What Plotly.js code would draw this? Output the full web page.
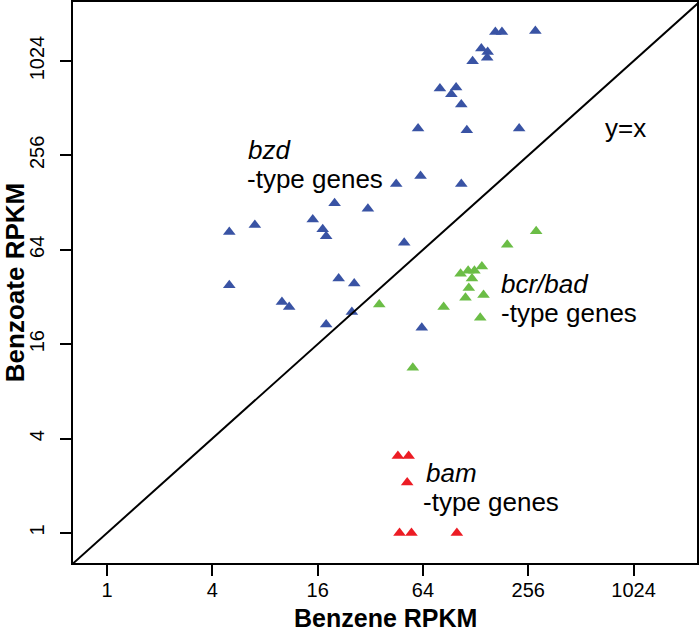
<!DOCTYPE html>
<html>
<head>
<meta charset="utf-8">
<script src="https://cdn.plot.ly/plotly-3.0.1.min.js"></script>
<style>html,body{margin:0;padding:0;background:#fff;}#chart{width:700px;height:631px;}</style>
</head>
<body>
<div id="chart"></div>
<script>
// bzd-type genes (blue)
const bzdBenzene  = [166, 181, 281, 138, 150, 149, 123, 80, 99, 93, 106, 60, 114, 227, 45, 62, 106, 20, 31, 15, 7.0, 5.0, 17.1, 17.9, 50, 5.0, 21.1, 25.9, 10.0, 11.0, 25.1, 17.9, 63];
const bzdBenzoate = [1568, 1568, 1591, 1229, 1169, 1076, 1020, 683, 693, 628, 540, 380, 370, 380, 168, 189, 168, 127, 117, 100, 92, 83, 86.5, 78, 71, 38, 42, 39, 29.7, 27.6, 25.7, 21.4, 20.4];
// bcr/bad-type genes (green)
const bcrBenzene  = [284, 194, 105, 126, 139, 122, 117, 112, 142, 84, 136, 36, 56, 116];
const bcrBenzoate = [84, 69, 45, 47, 50, 42, 36.5, 31.7, 33, 27.6, 23.6, 28.7, 11.3, 47];
// bam-type genes (red)
const bamBenzene  = [46, 53, 52, 47, 55, 100];
const bamBenzoate = [3.1, 3.1, 2.1, 1, 1, 1];
// y = x reference line
const identity = [0.5, 3000];
// tick labels
const tickValues = [1, 4, 16, 64, 256, 1024];
const tickLabels = ["1", "4", "16", "64", "256", "1024"];

const FONT = "Liberation Sans, Arial, Helvetica, sans-serif";
const log2 = v => Math.log10(Math.pow(2, v));

function pts(x, y, color) {
  return {x: x, y: y, type: "scatter", mode: "markers", hoverinfo: "skip",
    marker: {symbol: "triangle-up", size: 11, color: color, line: {width: 0}}};
}

const traces = [
  pts(bzdBenzene, bzdBenzoate, "#3953a4"),
  pts(bcrBenzene, bcrBenzoate, "#6bbd46"),
  pts(bamBenzene, bamBenzoate, "#ec1c24"),
  {x: identity, y: identity, type: "scatter", mode: "lines", hoverinfo: "skip",
    line: {color: "#000", width: 2}}
];

function ann(text, x, y) {
  return {text: text, x: x, y: y, xref: "x", yref: "y", xanchor: "left", yanchor: "middle",
    showarrow: false, align: "left", borderpad: 0, font: {family: FONT, size: 26, color: "#000"}};
}

const axisCommon = {
  type: "log", tickmode: "array", tickvals: tickValues, ticktext: tickLabels,
  ticks: "outside", ticklen: 11, tickwidth: 2, tickcolor: "#000",
  showline: true, mirror: true, linewidth: 2, linecolor: "#000",
  showgrid: false, zeroline: false,
  tickfont: {family: FONT, size: 20, color: "#000"}
};

const layout = {
  width: 700, height: 631,
  margin: {l: 73, r: 3, t: 2, b: 68},
  paper_bgcolor: "#fff", plot_bgcolor: "#fff",
  showlegend: false,
  font: {family: FONT, color: "#000"},
  xaxis: Object.assign({}, axisCommon, {
    range: [log2(-0.646), log2(11.204)],
    ticklabelstandoff: -3
  }),
  yaxis: Object.assign({}, axisCommon, {
    range: [log2(-0.636), log2(11.25)],
    tickangle: -90,
    ticklabelstandoff: 8,
    title: {text: "<b>Benzoate RPKM</b>", font: {family: FONT, size: 26, color: "#000"}, standoff: 0}
  }),
  annotations: [
    {text: "<b>Benzene RPKM</b>", xref: "paper", yref: "paper", x: 0.5, y: -0.0713,
      xanchor: "center", yanchor: "top", showarrow: false, borderpad: 0,
      font: {family: FONT, size: 25, color: "#000"}},
    ann("<i>bzd</i>", 0.800, 2.4408),
    ann("-type genes", 0.795, 2.2559),
    ann("<i>bcr/bad</i>", 2.246, 1.5862),
    ann("-type genes", 2.248, 1.4012),
    ann("<i>bam</i>", 1.818, 0.3839),
    ann("-type genes", 1.799, 0.1990),
    ann("y=x", 2.843, 2.581)
  ]
};

Plotly.newPlot("chart", traces, layout, {displayModeBar: false, staticPlot: true});
</script>
</body>
</html>
